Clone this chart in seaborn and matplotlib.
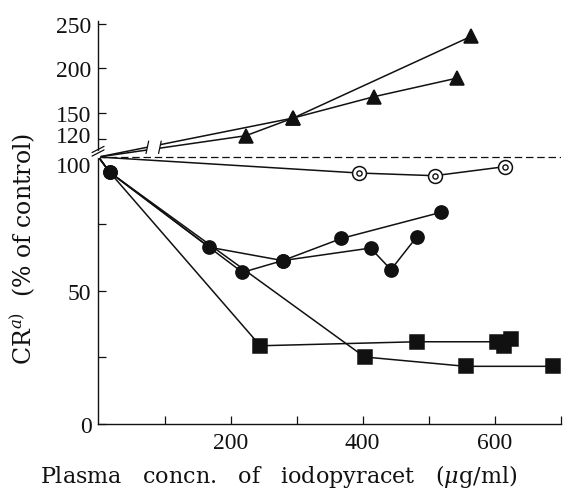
import numpy as np
import pandas as pd
import matplotlib
matplotlib.use("Agg")
import matplotlib.pyplot as plt
import matplotlib.transforms as mtransforms
import seaborn as sns

# --- data (x: ug/ml, y: % of control) ---
tri_a_x = [0, 223, 295, 417, 543]
tri_a_y = [100, 124, 144, 168, 189]
tri_b_x = [0, 295, 564]
tri_b_y = [100, 144, 236]

dcirc_x = [0, 395, 509, 616]
dcirc_y = [100, 94.0, 93.0, 96.4]

circ_a_x = [0, 17, 168, 279, 412, 443, 482]
circ_a_y = [100, 94.3, 66.2, 61.2, 65.9, 57.8, 70.1]
circ_b_x = [0, 17, 218, 279, 368, 519]
circ_b_y = [100, 94.3, 56.8, 61.2, 69.5, 79.3]

sq_a_x = [0, 17, 245, 482, 604, 614, 625]
sq_a_y = [100, 94.3, 29.3, 30.8, 30.8, 29.3, 31.8]
sq_b_x = [0, 17, 403, 556, 689]
sq_b_y = [100, 94.3, 25.1, 21.6, 21.6]

y_major = [0, 50, 100, 120, 150, 200, 250]
y_minor = [25, 75]
x_major = [200, 400, 600]
x_minor = [100, 300, 500, 700]

# compressed scale above 100
K = 0.332


def fwd(y):
    y = np.asarray(y, dtype=float)
    return np.where(y <= 100, y, 100 + (y - 100) * K)


def inv(y):
    y = np.asarray(y, dtype=float)
    return np.where(y <= 100, y, 100 + (y - 100) / K)


sns.set_style("ticks")
plt.rcParams['font.family'] = ['Liberation Serif', 'DejaVu Serif']
plt.rcParams['mathtext.fontset'] = 'dejavuserif'

fig = plt.figure(figsize=(5.66, 4.89), dpi=100)
ax = fig.add_axes([0.174, 0.1309, 0.8166, 0.8233])
ax.set_yscale('function', functions=(fwd, inv))

ink = '#111111'
lw = 1.1


def series(xs, ys, marker, ms, mfc=ink, first=1):
    # first: index of the first point that gets a marker (origin has none)
    df = pd.DataFrame({'x': xs, 'y': ys})
    sns.lineplot(data=df, x='x', y='y', sort=False, estimator=None, ax=ax,
                 color=ink, lw=lw, marker=marker, ms=ms, mfc=mfc, mec=ink,
                 mew=1.1, markevery=list(range(first, len(xs))), zorder=4)


# reference line
ax.axhline(100, color=ink, lw=0.9, ls=(0, (6, 3)), zorder=2)

series(tri_a_x, tri_a_y, '^', 10.5)
series(tri_b_x, tri_b_y, '^', 10.5)
# squares share the first (circle) point, so skip it
series(sq_b_x, sq_b_y, 's', 10, first=2)
series(sq_a_x, sq_a_y, 's', 10, first=2)
series(circ_a_x, circ_a_y, 'o', 9.5)
series(circ_b_x, circ_b_y, 'o', 9.5)
series(dcirc_x, dcirc_y, 'o', 10, mfc='white')
sns.scatterplot(x=dcirc_x[1:], y=dcirc_y[1:], ax=ax, s=14, facecolor='white',
                edgecolor=ink, linewidth=1.0, zorder=6)

# break in the rising lines
ax.fill_between([74, 93], 102, 122, color='white', lw=0, zorder=5)
for bx in (74, 93):
    ax.plot([bx - 2, bx + 2], [104, 118], color=ink, lw=0.9, zorder=6)

# break on the y axis
ytr = ax.get_yaxis_transform()
ax.plot([0, 0], [100.6, 106], color='white', lw=2.5, transform=ytr,
        clip_on=False, zorder=7)
for dy in (0, 4):
    ax.plot([-0.014, 0.012], [101 + dy, 108 + dy], color=ink, lw=0.9,
            transform=ytr, clip_on=False, zorder=8)

ax.set_xlim(0, 700)
ax.set_ylim(0, 253)
ax.set_yticks(y_major)
ax.set_yticklabels([str(v) for v in y_major])
ax.set_yticks(y_minor, minor=True)
ax.set_xticks(x_major)
ax.set_xticklabels([str(v) for v in x_major])
ax.set_xticks(x_minor, minor=True)

ax.tick_params(axis='both', which='both', direction='in', color=ink,
               labelsize=17, labelcolor=ink)
ax.tick_params(axis='both', which='major', length=6, width=0.9)
ax.tick_params(axis='both', which='minor', length=6, width=0.9)
ax.tick_params(axis='y', pad=5)
ax.tick_params(axis='x', pad=6)

# nudge the crowded labels near the break
for lab in ax.get_yticklabels():
    shift = {'100': -5, '120': 4}.get(lab.get_text(), 0)
    if shift:
        lab.set_transform(lab.get_transform() + mtransforms.ScaledTranslation(
            0, shift / 72, fig.dpi_scale_trans))

sns.despine(ax=ax)
for s in ('left', 'bottom'):
    ax.spines[s].set_linewidth(1.0)
    ax.spines[s].set_color(ink)

ax.set_xlabel('Plasma   concn.   of   iodopyracet   ($\\mu$g/ml)', fontsize=16,
              color=ink, family='DejaVu Serif')
ax.set_ylabel('CR$^{a)}$  (% of control)', fontsize=17, color=ink,
              family='DejaVu Serif')
ax.xaxis.set_label_coords(0.39, -0.094)
ax.yaxis.set_label_coords(-0.133, 0.437)

fig.savefig('out.png', dpi=100)
